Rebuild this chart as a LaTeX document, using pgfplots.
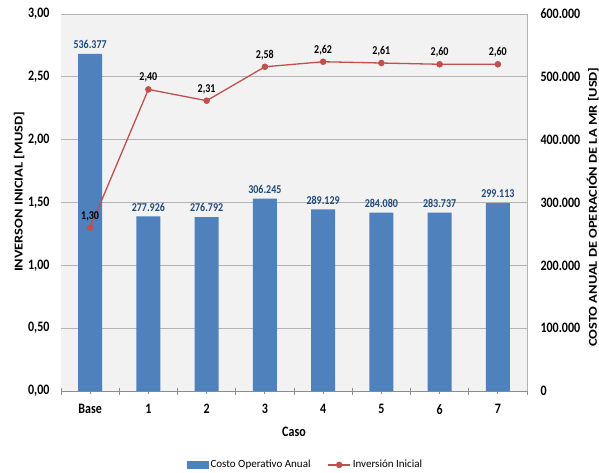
\documentclass[border=0pt]{standalone}
\usepackage{pgfplots}
\pgfplotsset{compat=1.18}
\usepackage{pgfplotstable}
\usepackage{fontspec}
\setmainfont{Carlito}

\definecolor{barblue}{HTML}{4F81BD}
\definecolor{linered}{HTML}{C0504D}
\definecolor{labelblue}{HTML}{1F497D}
\definecolor{plotbg}{HTML}{F2F2F2}
\definecolor{gridgray}{HTML}{B3B3B3}
\definecolor{axisgray}{HTML}{8C8C8C}

% caso, costo anual [USD], inversion [MUSD]
\pgfplotstableread{
x cost costlab inv invlab
0 536377 536.377 1.30 1,30
1 277926 277.926 2.40 2,40
2 276792 276.792 2.31 2,31
3 306245 306.245 2.58 2,58
4 289129 289.129 2.62 2,62
5 284080 284.080 2.61 2,61
6 283737 283.737 2.60 2,60
7 299113 299.113 2.60 2,60
}\datos

\pgfplotsset{
  common/.style={
    at={(61pt,81pt)}, anchor=south west,
    scale only axis, width=466pt, height=377pt,
    xmin=-0.5, xmax=7.5,
    /pgf/number format/assume math mode=true,
    ticklabel style={font=\fontsize{12}{14}\selectfont\bfseries, yscale=1.2},
  },
}

\begin{document}
\begin{tikzpicture}
\path[use as bounding box] (0,0) rectangle (599pt,472pt);

% Costo operativo anual (eje derecho)
\begin{axis}[
  common,
  ymin=0, ymax=600000,
  scaled y ticks=false,
  axis y line*=right, axis x line*=bottom,
  axis line style={axisgray, line width=0.8pt},
  y axis line style={gridgray, line width=0.9pt},
  axis background/.style={fill=plotbg},
  ytick={0,100000,200000,300000,400000,500000,600000},
  yticklabel style={/pgf/number format/fixed, /pgf/number format/precision=0,
    /pgf/number format/1000 sep={.}, /tikz/xshift=7pt},
  ytick style={draw=none},
  ymajorgrids, grid style={gridgray, line width=0.9pt},
  xtick={0,...,7}, xticklabels={Base,1,2,3,4,5,6,7},
  xticklabel style={yshift=-5pt},
  minor xtick={-0.5,0.5,...,7.5},
  xtick style={axisgray, line width=0.8pt},
  tick align=center, major tick length=6pt, minor tick length=7pt,
  xlabel={Caso},
  xlabel style={at={(axis description cs:0.5,-0.109)}, anchor=center,
    font=\fontsize{12}{14}\selectfont\bfseries, yscale=1.2},
  ylabel={COSTO ANUAL DE OPERACIÓN DE LA MR [USD]},
  ylabel style={at={(axis description cs:1.141,0.488)}, anchor=center, rotate=0,
    font=\fontsize{12}{14}\selectfont\bfseries, xscale=1.2},
]
\addplot[ybar, bar width=24pt, fill=barblue, draw=none,
  nodes near coords, point meta=explicit symbolic,
  every node near coord/.style={anchor=south, yshift=1pt,
    font=\fontsize{10}{12}\selectfont\bfseries, text=labelblue, yscale=1.2}]
  table[x=x, y=cost, meta=costlab]{\datos};
\end{axis}

% Inversion inicial (eje izquierdo)
\begin{axis}[
  common,
  ymin=0, ymax=3,
  axis y line*=left, axis x line=none,
  axis line style={draw=none},
  ytick={0,0.5,1,1.5,2,2.5,3},
  yticklabel style={/pgf/number format/fixed, /pgf/number format/fixed zerofill,
    /pgf/number format/precision=2, /pgf/number format/use comma, /tikz/xshift=-8pt},
  ytick style={draw=none},
  ylabel={INVERSON INICIAL [MUSD]},
  ylabel style={at={(axis description cs:-0.09,0.528)}, anchor=center,
    font=\fontsize{12}{14}\selectfont\bfseries, xscale=1.2},
  legend columns=2,
  legend style={at={(axis description cs:0.525,-0.196)}, anchor=center,
    draw=none, fill=none, font=\fontsize{11}{13}\selectfont,
    /tikz/every even column/.append style={column sep=15pt}},
]
\addlegendimage{legend image code/.code={
  \fill[barblue] (0pt,-3.5pt) rectangle (21pt,3.5pt);}}
\addlegendentry{Costo Operativo Anual}
\addplot[linered, line width=1.3pt, mark=*, mark size=2.6pt,
  mark options={fill=linered, draw=linered},
  legend image code/.code={
    \draw[linered, line width=1.3pt] (0pt,0pt) -- (22pt,0pt);
    \fill[linered] (11pt,0pt) circle (2.6pt);},
  nodes near coords, point meta=explicit symbolic,
  every node near coord/.style={anchor=south, yshift=2pt,
    font=\fontsize{10}{12}\selectfont\bfseries, text=black, yscale=1.2}]
  table[x=x, y=inv, meta=invlab]{\datos};
\addlegendentry{Inversión Inicial}
\end{axis}
\end{tikzpicture}
\end{document}
